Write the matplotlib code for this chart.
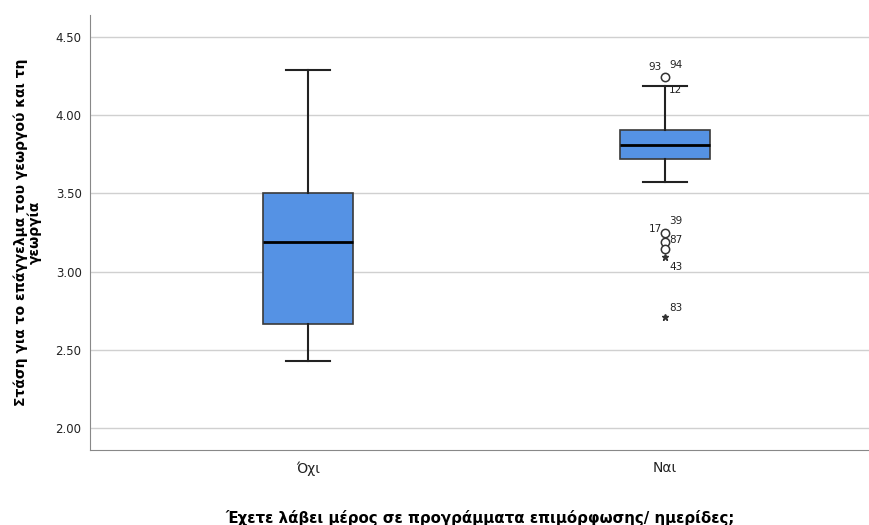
import numpy as np
import matplotlib
matplotlib.use('Agg')
import matplotlib.pyplot as plt

# box statistics
groups = ['Όχι', 'Ναι']
whislo = [2.43, 3.57]
q1 = [2.665, 3.72]
med = [3.19, 3.81]
q3 = [3.50, 3.905]
whishi = [4.29, 4.19]

# outliers (group index, value, marker)
out_grp = [1, 1, 1, 1, 1, 1]
out_val = [4.244, 3.247, 3.189, 3.145, 3.093, 2.71]
out_kind = ['o', 'o', 'o', 'o', '*', '*']
# case numbers shown next to the points, with offsets in points
case_lbl = ['93', '94', '12', '39', '17', '87', '43', '83']
case_val = [4.244, 4.244, 4.19, 3.247, 3.247, 3.189, 3.093, 2.71]
case_dx = [-12, 3, 3, 3, -12, 3, 3, 3]
case_dy = [4, 5, -7, 5, -1, -2, -11, 3]

yticks = [2.0, 2.5, 3.0, 3.5, 4.0, 4.5]

fig = plt.figure(figsize=(8.7, 5.25), dpi=100)
ax = fig.add_axes([0.1034, 0.1429, 0.8966, 0.8285])

stats = []
for i in range(len(groups)):
    stats.append({'whislo': whislo[i], 'q1': q1[i], 'med': med[i],
                  'q3': q3[i], 'whishi': whishi[i], 'fliers': []})

ax.bxp(stats, positions=[1, 2], widths=0.252, capwidths=0.123,
       patch_artist=True, showfliers=False, manage_ticks=False,
       boxprops=dict(facecolor='#5592E4', edgecolor='#3a3a3a', linewidth=1.2),
       medianprops=dict(color='black', linewidth=2),
       whiskerprops=dict(color='#222222', linewidth=1.5),
       capprops=dict(color='#222222', linewidth=1.5), zorder=3)

for g, v, m in zip(out_grp, out_val, out_kind):
    if m == 'o':
        ax.plot(g + 1, v, marker='o', ms=6, mfc='white', mec='#333333',
                mew=1.1, ls='none', zorder=4)
    else:
        ax.plot(g + 1, v, marker='*', ms=5, color='#333333', ls='none', zorder=4)

for lbl, v, dx, dy in zip(case_lbl, case_val, case_dx, case_dy):
    ax.annotate(lbl, (2, v), xytext=(dx, dy), textcoords='offset points',
                fontsize=7.5, color='#222222', ha='left', va='bottom')

ax.set_xlim(0.389, 2.574)
ax.set_ylim(1.859, 4.641)
ax.set_yticks(yticks)
ax.set_yticklabels(['%.2f' % t for t in yticks], fontsize=8.5)
ax.set_xticks([1, 2])
ax.set_xticklabels(groups, fontsize=10)
ax.tick_params(axis='y', length=0, pad=6, colors='#222222')
ax.tick_params(axis='x', length=0, pad=8, colors='#222222')
ax.yaxis.grid(True, color='#d0d0d0', linewidth=1)
ax.set_axisbelow(True)
for s in ['top', 'right']:
    ax.spines[s].set_visible(False)
for s in ['left', 'bottom']:
    ax.spines[s].set_color('#888888')

ax.set_ylabel('Στάση για το επάγγελμα του γεωργού και τη\nγεωργία',
              fontsize=10, fontweight='bold', labelpad=10, linespacing=0.9)
ax.set_xlabel('Έχετε λάβει μέρος σε προγράμματα επιμόρφωσης/ ημερίδες;',
              fontsize=10.8, fontweight='bold', labelpad=25)

fig.savefig('out.png', dpi=100)
